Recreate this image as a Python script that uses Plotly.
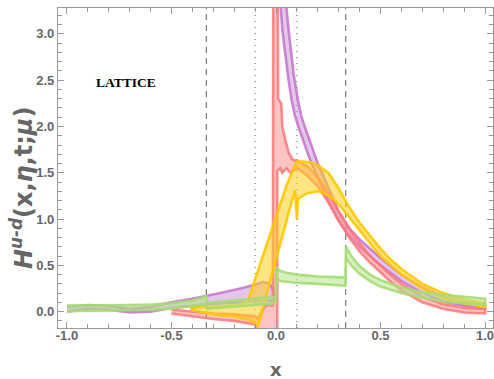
import plotly.graph_objects as go

# ---------------- data ----------------
# purple band, x<0 branch
purple_neg_x_up = [-1.0, -0.9, -0.8, -0.7, -0.6, -0.5, -0.4, -0.33, -0.25, -0.15, -0.1, -0.06, -0.03, -0.01, 0.0]
purple_neg_up = [0.05, 0.07, 0.06, 0.03, 0.05, 0.10, 0.14, 0.17, 0.21, 0.26, 0.29, 0.32, 0.30, 0.22, 0.14]
purple_neg_x_lo = [-1.0, -0.9, -0.8, -0.7, -0.6, -0.5, -0.4, -0.33, -0.2, -0.1, 0.0]
purple_neg_lo = [0.0, 0.03, 0.02, -0.01, 0.0, 0.04, 0.06, 0.08, 0.10, 0.11, 0.12]

# purple band, x>0 branch
purple_pos_x_up = [0.04, 0.048, 0.06, 0.07, 0.085, 0.105, 0.12, 0.14, 0.16, 0.177, 0.2, 0.22, 0.26, 0.3,
                   0.35, 0.4, 0.45, 0.5, 0.6, 0.7, 0.8, 0.9, 1.0]
purple_pos_up = [3.5, 3.3, 3.05, 2.85, 2.55, 2.28, 2.12, 1.98, 1.85, 1.74, 1.6, 1.5, 1.28, 1.08,
                 0.9, 0.78, 0.68, 0.58, 0.40, 0.26, 0.16, 0.10, 0.07]
purple_pos_x_lo = [0.015, 0.022, 0.03, 0.045, 0.06, 0.075, 0.09, 0.11, 0.13, 0.147, 0.17, 0.2, 0.25, 0.3,
                   0.35, 0.4, 0.45, 0.5, 0.6, 0.7, 0.8, 0.9, 1.0]
purple_pos_lo = [3.5, 3.3, 3.05, 2.75, 2.5, 2.28, 2.12, 1.98, 1.84, 1.74, 1.6, 1.45, 1.2, 0.98,
                 0.82, 0.70, 0.60, 0.50, 0.33, 0.20, 0.11, 0.06, 0.03]

# red band
red_x_up = [-0.5, -0.4, -0.3, -0.2, -0.1, -0.085, -0.07, -0.05, -0.03, -0.015, -0.013, 0.008, 0.01,
            0.025, 0.03, 0.045, 0.06, 0.08, 0.1, 0.15, 0.2, 0.25, 0.3, 0.35, 0.4, 0.45, 0.5, 0.55,
            0.6, 0.7, 0.8, 0.9, 1.0]
red_up = [0.02, 0.0, -0.02, -0.03, -0.05, -0.08, 0.0, 0.06, 0.08, 0.06, 3.6, 3.6, 2.3,
          2.25, 2.0, 1.85, 1.72, 1.64, 1.63, 1.57, 1.45, 1.28, 1.08, 0.90, 0.74, 0.60, 0.49, 0.39,
          0.30, 0.16, 0.08, 0.04, 0.03]
red_x_lo = [-0.5, -0.4, -0.3, -0.2, -0.1, -0.085, 0.006, 0.006, 0.02, 0.03, 0.05, 0.07, 0.1,
            0.15, 0.2, 0.25, 0.3, 0.35, 0.4, 0.45, 0.5, 0.55, 0.6, 0.7, 0.8, 0.9, 1.0]
red_lo = [-0.02, -0.05, -0.08, -0.10, -0.14, -0.3, -0.3, 1.52, 1.55, 1.50, 1.55, 1.50, 1.55,
          1.47, 1.35, 1.18, 0.98, 0.80, 0.65, 0.53, 0.42, 0.32, 0.23, 0.10, 0.03, -0.01, -0.02]

# yellow band
yellow_x_up = [-0.41, -0.35, -0.3, -0.25, -0.2, -0.15, -0.13, -0.1, -0.05, 0.0, 0.05, 0.09, 0.1,
               0.13, 0.17, 0.2, 0.25, 0.3, 0.35, 0.4, 0.45, 0.5, 0.55, 0.6, 0.7, 0.8, 0.9, 1.0]
yellow_up = [0.04, 0.05, 0.06, 0.06, 0.07, 0.09, 0.14, 0.35, 0.69, 1.02, 1.36, 1.58, 1.62,
             1.62, 1.61, 1.58, 1.50, 1.33, 1.13, 0.96, 0.82, 0.68, 0.56, 0.46, 0.30, 0.20, 0.13, 0.09]
yellow_x_lo = [-0.41, -0.35, -0.3, -0.2, -0.15, -0.11, -0.086, -0.038, 0.0, 0.05, 0.09, 0.1, 0.105,
               0.15, 0.2, 0.25, 0.3, 0.35, 0.4, 0.45, 0.5, 0.55, 0.6, 0.7, 0.8, 0.9, 1.0]
yellow_lo = [0.02, -0.01, -0.03, -0.05, -0.08, -0.10, -0.16, 0.25, 0.57, 0.98, 1.31, 1.0, 1.22,
             1.28, 1.30, 1.26, 1.16, 1.03, 0.88, 0.74, 0.60, 0.50, 0.40, 0.25, 0.15, 0.09, 0.05]

# green band
green_x_up = [-1.0, -0.9, -0.8, -0.7, -0.6, -0.5, -0.4, -0.34, -0.334, -0.332, -0.3, -0.2, -0.1, -0.002,
              0.002, 0.02, 0.05, 0.1, 0.2, 0.332, 0.335, 0.36, 0.4, 0.45, 0.5, 0.6, 0.7, 0.8, 0.9, 1.0]
green_up = [0.065, 0.065, 0.065, 0.07, 0.075, 0.09, 0.12, 0.16, 0.18, 0.10, 0.10, 0.12, 0.14, 0.16,
            0.47, 0.44, 0.42, 0.40, 0.38, 0.37, 0.70, 0.60, 0.49, 0.40, 0.34, 0.26, 0.21, 0.18, 0.16, 0.14]
green_x_lo = [-1.0, -0.8, -0.6, -0.5, -0.4, -0.335, -0.332, -0.2, -0.1, -0.002,
              0.002, 0.02, 0.1, 0.2, 0.332, 0.335, 0.36, 0.4, 0.45, 0.5, 0.6, 0.7, 0.8, 0.9, 1.0]
green_lo = [0.005, 0.01, 0.02, 0.035, 0.06, 0.08, 0.03, 0.05, 0.07, 0.09,
            0.36, 0.33, 0.31, 0.30, 0.28, 0.58, 0.50, 0.41, 0.33, 0.27, 0.20, 0.15, 0.11, 0.09, 0.07]

dashed_x = [-1/3, 1/3]
dotted_x = [-0.1, 0.1]
x_ticks = [-1.0, -0.5, 0.0, 0.5, 1.0]
x_tick_labels = ["-1.0", "-0.5", "0.0", "0.5", "1.0"]
y_ticks = [0.0, 0.5, 1.0, 1.5, 2.0, 2.5, 3.0]
y_tick_labels = ["0.0", "0.5", "1.0", "1.5", "2.0", "2.5", "3.0"]

# ---------------- figure ----------------
fig = go.Figure()

def band(xu, yu, xl, yl, edge, fill):
    fig.add_trace(go.Scatter(
        x=list(xu) + list(xl)[::-1],
        y=list(yu) + list(yl)[::-1],
        mode="lines", fill="toself", fillcolor=fill,
        line=dict(color=edge, width=2.6),
        hoverinfo="skip", showlegend=False))

PURPLE_E, PURPLE_F = "rgba(195,115,203,0.85)", "rgba(205,140,215,0.5)"
RED_E, RED_F = "rgba(255,120,120,0.85)", "rgba(255,135,135,0.5)"
YEL_E, YEL_F = "rgba(255,200,0,0.9)", "rgba(255,205,30,0.55)"
GRN_E, GRN_F = "rgba(165,220,115,0.9)", "rgba(180,228,140,0.55)"

band(purple_neg_x_up, purple_neg_up, purple_neg_x_lo, purple_neg_lo, PURPLE_E, PURPLE_F)
band(purple_pos_x_up, purple_pos_up, purple_pos_x_lo, purple_pos_lo, PURPLE_E, PURPLE_F)
band(red_x_up, red_up, red_x_lo, red_lo, RED_E, RED_F)
band(yellow_x_up, yellow_up, yellow_x_lo, yellow_lo, YEL_E, YEL_F)
band(green_x_up, green_up, green_x_lo, green_lo, GRN_E, GRN_F)

for xv in dashed_x:
    fig.add_shape(type="line", x0=xv, x1=xv, y0=0, y1=1, xref="x", yref="paper",
                  line=dict(color="#777777", width=1.2, dash="6px,5px"), layer="below")
for xv in dotted_x:
    fig.add_shape(type="line", x0=xv, x1=xv, y0=0, y1=1, xref="x", yref="paper",
                  line=dict(color="#777777", width=1.2, dash="1px,5px"), layer="below")

tickfont = dict(family="Liberation Sans", size=13, color="#666666", weight="bold")
axis_common = dict(showgrid=False, zeroline=False, showline=True, linecolor="#999999", linewidth=1.3,
                   mirror="ticks", ticks="inside", ticklen=6, tickwidth=1, tickcolor="#999999",
                   tickfont=tickfont, automargin=False, ticklabeloverflow="allow")

fig.update_xaxes(range=[-1.043, 1.038], tickvals=x_ticks, ticktext=x_tick_labels,
                 minor=dict(dtick=0.1, ticklen=3.5, tickcolor="#999999", ticks="inside"),
                 ticklabelstandoff=-5, **axis_common)
fig.update_yaxes(range=[-0.177, 3.28], tickvals=y_ticks, ticktext=y_tick_labels,
                 minor=dict(dtick=0.1, ticklen=3.5, tickcolor="#999999", ticks="inside"),
                 **axis_common)

fig.add_annotation(x=-0.718, y=2.47, xref="x", yref="y", text="<b>LATTICE</b>", showarrow=False,
                   font=dict(family="Liberation Serif", size=13.5, color="black"))
fig.add_annotation(x=-0.083, y=0.44, xref="paper", yref="paper", textangle=-90, showarrow=False,
                   xanchor="center", yanchor="middle",
                   text="<i>H</i><sup><i>u-d</i></sup>(x,<i>η</i>,t;<i>μ</i>)",
                   font=dict(family="DejaVu Sans", size=24, color="#666666", weight="bold"))
fig.add_annotation(x=0.5, y=-0.13, xref="paper", yref="paper", text="x", showarrow=False,
                   xanchor="center", yanchor="middle",
                   font=dict(family="DejaVu Sans", size=18, color="#666666", weight="bold"))

fig.update_layout(width=494, height=379, margin=dict(l=58, r=1, t=8, b=51),
                  paper_bgcolor="white", plot_bgcolor="white")

# remove the default 8px page margin so the figure sits at the window's corner
fig.write_html("out.html", config={"displayModeBar": False},
               post_script="document.body.style.margin='0px';document.body.style.overflow='hidden';")
